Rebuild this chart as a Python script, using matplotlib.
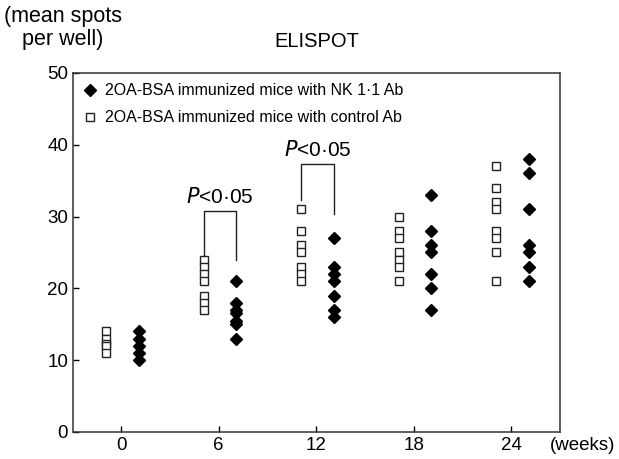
import matplotlib
matplotlib.use('Agg')
import matplotlib.pyplot as plt

plt.rcParams['font.family'] = ['Liberation Sans', 'DejaVu Sans']

weeks = [0, 6, 12, 18, 24]
# NK 1.1 Ab group (filled diamonds)
nk_ab = [
    [14, 13, 12, 11, 10],
    [21, 18, 17, 16.5, 15.5, 15, 13],
    [27, 23, 22, 21, 19, 17, 16],
    [33, 28, 26, 25, 22, 20, 17],
    [38, 36, 31, 26, 25, 23, 21],
]
# control Ab group (open squares)
control_ab = [
    [14, 13, 12.3, 12, 11],
    [24, 23, 22, 21, 19, 18, 17],
    [31, 28, 26, 25, 23, 22, 21],
    [30, 28, 27, 25, 24, 23, 21],
    [37, 34, 32, 31, 28, 27, 25, 21],
]
labels = ['2OA-BSA immunized mice with NK 1·1 Ab',
          '2OA-BSA immunized mice with control Ab']
# significance brackets: week, bar height, left leg end, right leg end
p_weeks = [6, 12]
p_bar = [30.8, 37.3]
p_left = [24.5, 32.3]
p_right = [24, 30.4]

ctrl_off = -0.92
nk_off = 1.08

fig = plt.figure(figsize=(6.19, 4.59), dpi=100)
ax = fig.add_axes([0.118, 0.059, 0.787, 0.782])

first = True
for w, ys in zip(weeks, nk_ab):
    ax.plot([w + nk_off] * len(ys), ys, linestyle='none', marker='D',
            markersize=6.5, color='black', label=labels[0] if first else None)
    first = False
first = True
for w, ys in zip(weeks, control_ab):
    ax.plot([w + ctrl_off] * len(ys), ys, linestyle='none', marker='s',
            markersize=6, markerfacecolor='white', markeredgecolor='#222222',
            markeredgewidth=1.0, label=labels[1] if first else None)
    first = False

for w, top, l, r in zip(p_weeks, p_bar, p_left, p_right):
    ax.plot([w + ctrl_off, w + ctrl_off, w + nk_off, w + nk_off],
            [l, top, top, r], color='#222222', lw=1.0)
    ax.text(w + 0.1, top + 0.6, r'$\it{P}$<0·05', ha='center', va='bottom',
            fontsize=15)

ax.set_xlim(-2.95, 27.0)
ax.set_ylim(0, 50)
ax.set_xticks(weeks)
ax.set_yticks(range(0, 51, 10))
ax.tick_params(direction='in', length=4, labelsize=13.5, width=1)
ax.tick_params(axis='x', pad=4)
for s in ax.spines.values():
    s.set_linewidth(1.1)
    s.set_color('#333333')

ax.set_title('ELISPOT', fontsize=14.5, pad=19)
fig.text(615 / 619, 1 - 446 / 459, '(weeks)', ha='right', va='center',
         fontsize=13.5)
fig.text(63 / 619, 1 - 6 / 459, '(mean spots\nper well)', ha='center',
         va='top', multialignment='center', fontsize=15.5, linespacing=1.15)

ax.legend(loc='upper left', frameon=False, fontsize=11.5, handlelength=0.8,
          handletextpad=0.55, labelspacing=0.75, borderaxespad=0.25,
          bbox_to_anchor=(0.0, 1.0))

fig.savefig('out.png', dpi=100)
